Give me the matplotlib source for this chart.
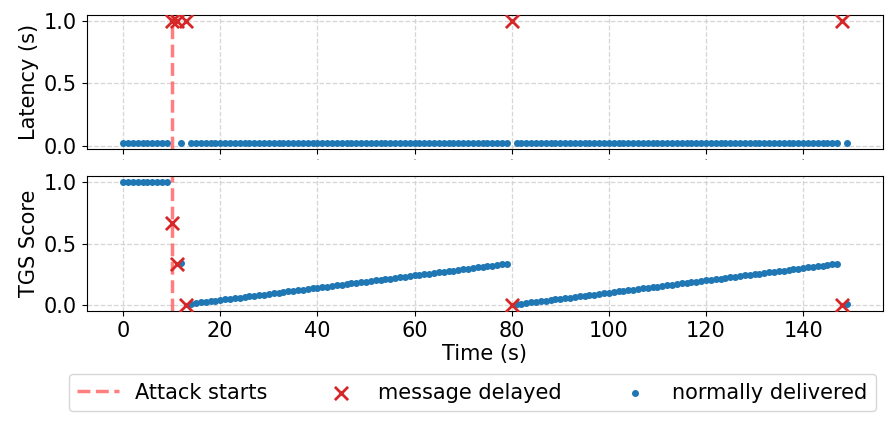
import matplotlib
matplotlib.use('Agg')
import matplotlib.pyplot as plt

plt.rcParams['font.size'] = 15

# message send times (s), one message per second
delayed_t = [10, 11, 13, 80, 148]
normal_t = [t for t in range(150) if t not in delayed_t]

# latency (s)
delayed_lat = [1.0, 1.0, 1.0, 1.0, 1.0]
normal_lat = [0.02] * len(normal_t)

# TGS score
delayed_tgs = [0.67, 0.33, 0.0, 0.0, 0.0]
tgs_before = [1.0, 1.0, 1.0, 1.0, 1.0, 1.0, 1.0, 1.0, 1.0, 1.0]   # t = 0..9
tgs_t12 = [0.34]
tgs_ramp1 = [0.010, 0.015, 0.020, 0.025, 0.030, 0.035, 0.040, 0.045, 0.050, 0.055,
             0.060, 0.065, 0.070, 0.075, 0.080, 0.085, 0.090, 0.095, 0.100, 0.105,
             0.110, 0.115, 0.120, 0.125, 0.130, 0.135, 0.140, 0.145, 0.150, 0.155,
             0.160, 0.165, 0.170, 0.175, 0.180, 0.185, 0.190, 0.195, 0.200, 0.205,
             0.210, 0.215, 0.220, 0.225, 0.230, 0.235, 0.240, 0.245, 0.250, 0.255,
             0.260, 0.265, 0.270, 0.275, 0.280, 0.285, 0.290, 0.295, 0.300, 0.305,
             0.310, 0.315, 0.320, 0.325, 0.330, 0.337]                   # t = 14..79
tgs_ramp2 = [0.005, 0.010, 0.015, 0.020, 0.025, 0.030, 0.035, 0.040, 0.045, 0.050,
             0.055, 0.060, 0.065, 0.070, 0.075, 0.080, 0.085, 0.090, 0.095, 0.100,
             0.105, 0.110, 0.115, 0.120, 0.125, 0.130, 0.135, 0.140, 0.145, 0.150,
             0.155, 0.160, 0.165, 0.170, 0.175, 0.180, 0.185, 0.190, 0.195, 0.200,
             0.205, 0.210, 0.215, 0.220, 0.225, 0.230, 0.235, 0.240, 0.245, 0.250,
             0.255, 0.260, 0.265, 0.270, 0.275, 0.280, 0.285, 0.290, 0.295, 0.300,
             0.305, 0.310, 0.315, 0.320, 0.325, 0.330, 0.337]            # t = 81..147
tgs_end = [0.01]                                                         # t = 149
normal_tgs = tgs_before + tgs_t12 + tgs_ramp1 + tgs_ramp2 + tgs_end

attack_t = 10

fig = plt.figure(figsize=(8.96, 4.25), dpi=100)
ax1 = fig.add_axes([0.097, 0.649, 0.8885, 0.316])
ax2 = fig.add_axes([0.097, 0.268, 0.8885, 0.318], sharex=ax1)

for ax, nv, dv, lab in [(ax1, normal_lat, delayed_lat, 'Latency (s)'),
                        (ax2, normal_tgs, delayed_tgs, 'TGS Score')]:
    ax.grid(True, linestyle='--', color='#cccccc', linewidth=0.9, alpha=0.8)
    ax.set_axisbelow(True)
    vl = ax.axvline(attack_t, color='red', alpha=0.5, linestyle='--', linewidth=2.5,
                    label='Attack starts')
    sd = ax.scatter(delayed_t, dv, marker='x', color='tab:red', s=90, linewidths=2,
                    zorder=3, label='message delayed')
    sn = ax.scatter(normal_t, nv, marker='o', color='tab:blue', s=16, zorder=2,
                    label='normally delivered')
    ax.set_ylabel(lab)
    ax.set_yticks([0.0, 0.5, 1.0])

ax1.tick_params(axis='x', labelsize=1)
ax1.xaxis.set_tick_params(labelbottom=True)
ax2.set_xlabel('Time (s)', labelpad=2)

fig.legend(handles=[vl, sd, sn], loc='upper center', bbox_to_anchor=(0.527, 0.144),
           ncol=3, columnspacing=2.5)

fig.savefig('out.png', dpi=100)
